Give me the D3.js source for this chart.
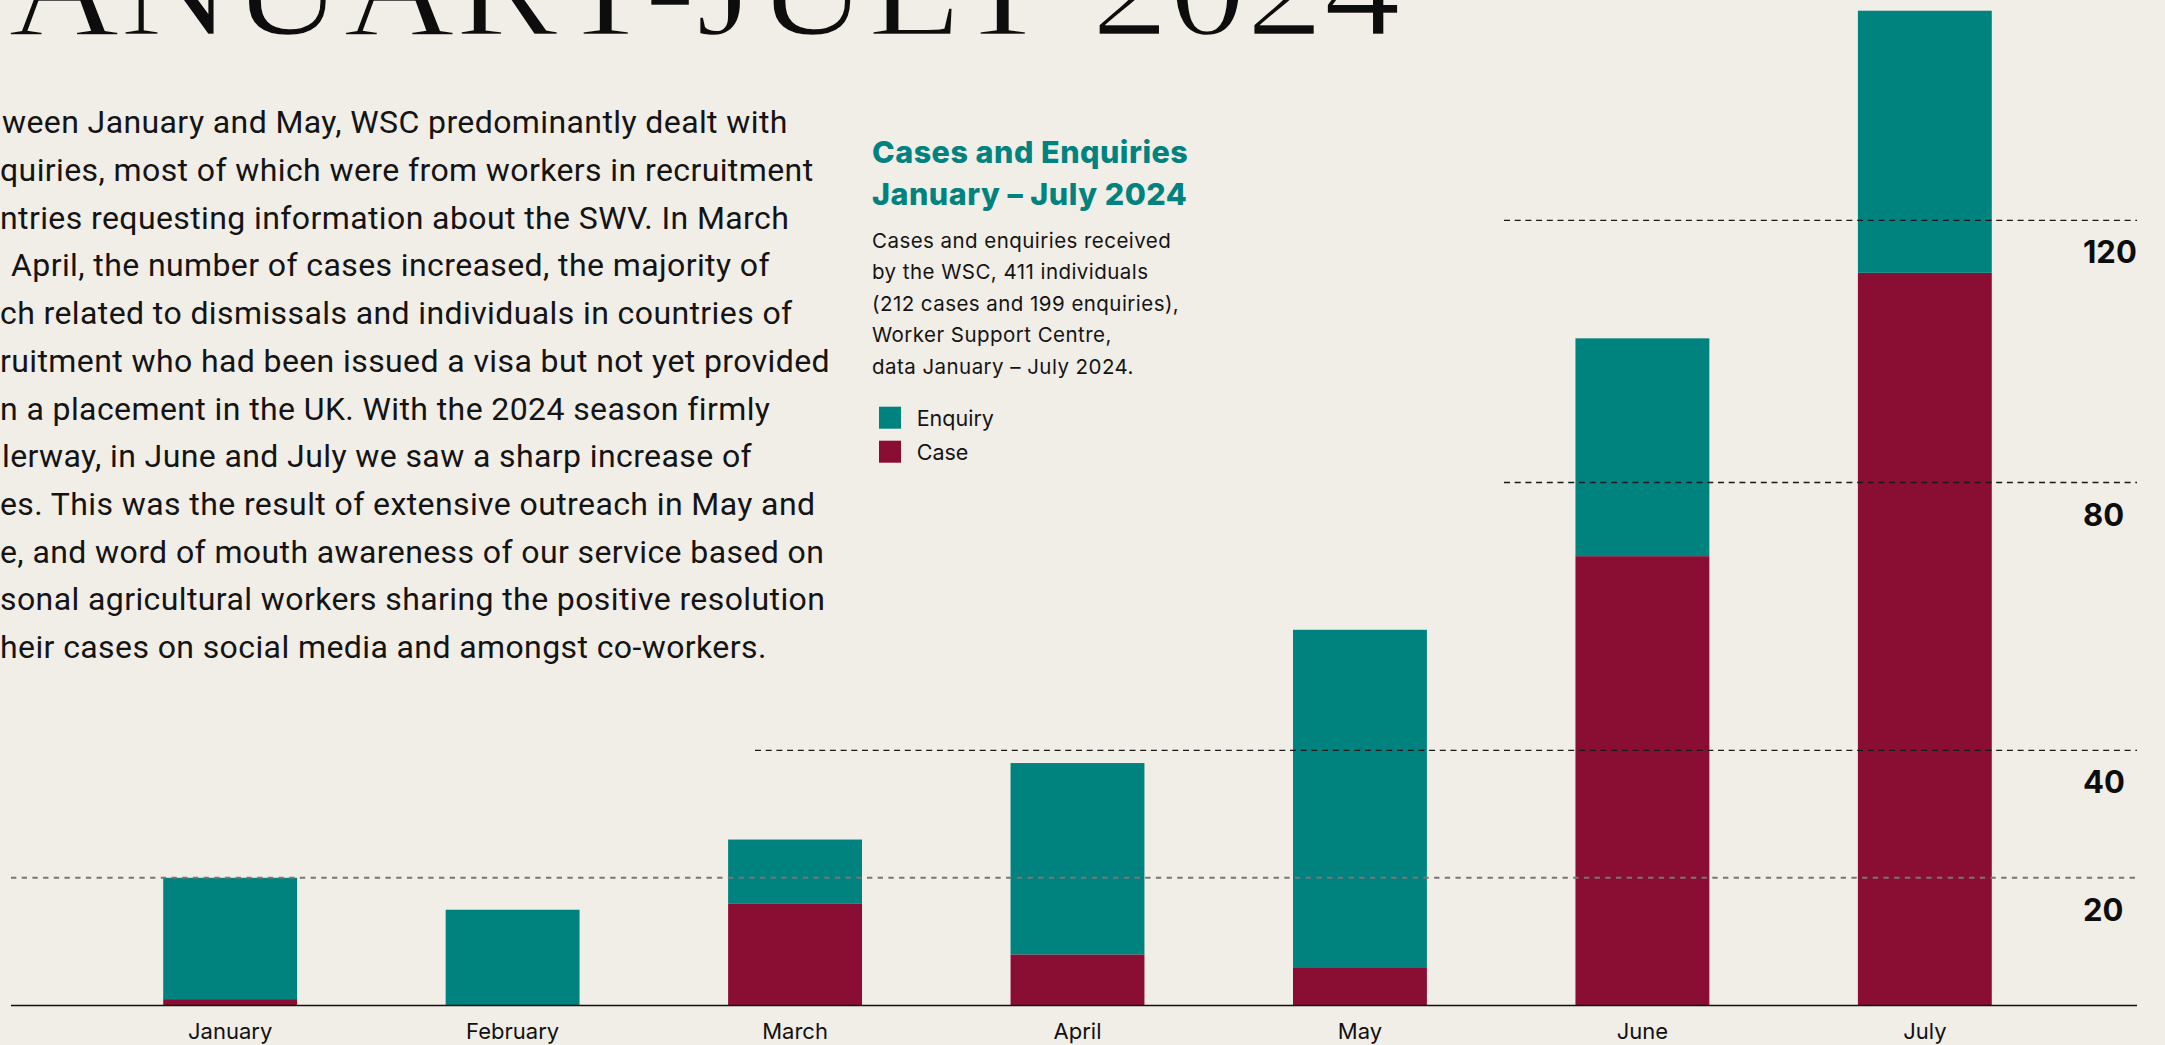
<!DOCTYPE html>
<html>
<head>
<meta charset="utf-8">
<script src="https://cdn.jsdelivr.net/npm/d3@7"></script>
<style>
  html, body { margin: 0; padding: 0; background: #f1ede7; overflow: hidden; }
  svg { display: block; }
</style>
</head>
<body>
<svg id="chart"></svg>
<script>
const width = 2165, height = 1045;
const bg = "#f1ede7";

// Data
const months = ["January", "February", "March", "April", "May", "June", "July"];
const cases = [1, 0, 16, 8, 6, 69, 112];
const enquiries = [19, 15, 10, 30, 52, 33, 40];
const yTicks = [20, 40, 80, 120];

const seriesKeys = ["case", "enquiry"];
const seriesNames = { case: "Case", enquiry: "Enquiry" };
const colors = { case: "#8a0e33", enquiry: "#00827e" };

const titleText = "ANUARY-JULY 2024";
const paragraph = [
  "ween January and May, WSC predominantly dealt with",
  "quiries, most of which were from workers in recruitment",
  "ntries requesting information about the SWV. In March",
  "April, the number of cases increased, the majority of",
  "ch related to dismissals and individuals in countries of",
  "ruitment who had been issued a visa but not yet provided",
  "n a placement in the UK. With the 2024 season firmly",
  "lerway, in June and July we saw a sharp increase of",
  "es. This was the result of extensive outreach in May and",
  "e, and word of mouth awareness of our service based on",
  "sonal agricultural workers sharing the positive resolution",
  "heir cases on social media and amongst co-workers."
];
const legendTitle = ["Cases and Enquiries", "January \u2013 July 2024"];
const legendNote = [
  "Cases and enquiries received",
  "by the WSC, 411 individuals",
  "(212 cases and 199 enquiries),",
  "Worker Support Centre,",
  "data January \u2013 July 2024."
];

const table = months.map((m, i) => ({ month: m, case: cases[i], enquiry: enquiries[i] }));
const stacked = d3.stack().keys(seriesKeys)(table);

const svg = d3.select("#chart")
  .attr("width", width)
  .attr("height", height)
  .attr("viewBox", [0, 0, width, height]);

svg.append("rect").attr("width", width).attr("height", height).attr("fill", bg);

// Scales -- the gridlines in the original are not evenly spaced,
// so the value axis is piecewise linear through them
const x = d3.scaleBand().domain(months).range([22, 2133]).paddingInner(0.526).paddingOuter(0.5);
const y = d3.scaleLinear().domain([0, 20, 40, 80, 120]).range([1005.5, 877.8, 750.3, 482.5, 220.4]);

// Title (runs off the top edge, like the original page)
svg.append("text")
  .attr("x", 8)
  .attr("y", 35)
  .attr("font-family", "'Liberation Serif', serif")
  .attr("font-size", 146)
  .attr("textLength", 1393)
  .attr("lengthAdjust", "spacingAndGlyphs")
  .attr("fill", "#0d0d0d")
  .attr("stroke", bg)
  .attr("stroke-width", 2.5)
  .text(titleText);

// Paragraph
svg.append("g")
  .attr("font-family", "Roboto, sans-serif")
  .attr("font-size", 32)
  .attr("letter-spacing", 0.4)
  .attr("fill", "#141414")
  .selectAll("text")
  .data(paragraph)
  .join("text")
  .attr("x", (d, i) => i === 3 ? 11 : (i === 0 || i === 7 ? 2 : 0))
  .attr("y", (d, i) => 133.3 + i * 47.7)
  .text(d => d);

// Bars
svg.append("g")
  .selectAll("g")
  .data(stacked)
  .join("g")
  .attr("fill", d => colors[d.key])
  .selectAll("rect")
  .data(d => d)
  .join("rect")
  .attr("x", d => x(d.data.month))
  .attr("width", x.bandwidth())
  .attr("y", d => y(d[1]))
  .attr("height", d => y(d[0]) - y(d[1]));

// Gridlines on top of the bars; each starts at a different x in the original
const gridStart = { 20: 11, 40: 755, 80: 1504, 120: 1504 };
svg.append("g")
  .selectAll("line")
  .data(yTicks)
  .join("line")
  .attr("x1", d => gridStart[d])
  .attr("x2", 2137)
  .attr("y1", d => y(d))
  .attr("y2", d => y(d))
  .attr("stroke", d => d === 20 ? "#777" : "#1a1a1a")
  .attr("stroke-width", d => d === 20 ? 2 : 1.3)
  .attr("stroke-dasharray", d => d === 20 ? "5.3,5.4" : "6,4.7");

// Value labels, sitting under their gridline
svg.append("g")
  .attr("font-family", "Inter, sans-serif")
  .attr("font-weight", 700)
  .attr("font-size", 31)
  .attr("fill", "#0d0d0d")
  .selectAll("text")
  .data(yTicks)
  .join("text")
  .attr("x", 2083)
  .attr("y", d => y(d) + 43)
  .text(d => d);

// Baseline + month labels
const xAxis = svg.append("g")
  .attr("transform", `translate(0,${y(0)})`)
  .call(d3.axisBottom(x).tickSize(0).tickPadding(0));
xAxis.select(".domain").remove();
xAxis.selectAll("text")
  .attr("y", 33.5)
  .attr("dy", null)
  .attr("font-family", "Inter, sans-serif")
  .attr("font-size", 22)
  .attr("fill", "#111");

svg.append("line")
  .attr("x1", 11).attr("x2", 2137)
  .attr("y1", y(0)).attr("y2", y(0))
  .attr("stroke", "#111")
  .attr("stroke-width", 1.3);

// Legend block
const legend = svg.append("g").attr("font-family", "Inter, sans-serif");

legend.selectAll(".ltitle")
  .data(legendTitle)
  .join("text")
  .attr("class", "ltitle")
  .attr("x", 872)
  .attr("y", (d, i) => 162.5 + i * 42.5)
  .attr("font-size", 30.5)
  .attr("letter-spacing", 0.5)
  .attr("font-weight", 800)
  .attr("fill", colors.enquiry)
  .text(d => d);

legend.selectAll(".lnote")
  .data(legendNote)
  .join("text")
  .attr("class", "lnote")
  .attr("x", 872)
  .attr("y", (d, i) => 247.7 + i * 31.5)
  .attr("font-size", 20.5)
  .attr("letter-spacing", 0.45)
  .attr("fill", "#141414")
  .text(d => d);

const legendKeys = ["enquiry", "case"];
const item = legend.selectAll(".litem")
  .data(legendKeys)
  .join("g")
  .attr("class", "litem")
  .attr("transform", (d, i) => `translate(879,${406.7 + i * 34})`);
item.append("rect")
  .attr("width", 22).attr("height", 22)
  .attr("fill", d => colors[d]);
item.append("text")
  .attr("x", 37.7)
  .attr("y", 19.3)
  .attr("font-size", 21.5)
  .attr("fill", "#141414")
  .text(d => seriesNames[d]);
</script>
</body>
</html>
